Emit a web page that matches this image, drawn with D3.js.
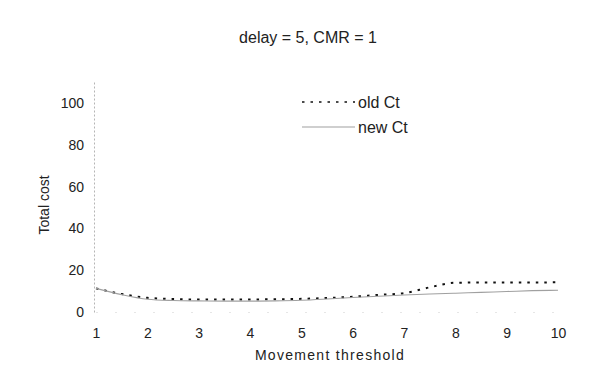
<!DOCTYPE html>
<html>
<head>
<meta charset="utf-8">
<script src="https://cdn.jsdelivr.net/npm/d3@7"></script>
<style>
  body { margin: 0; background: #fff; }
  text { font-family: "Liberation Sans", Arial, sans-serif; fill: #222; }
</style>
</head>
<body>
<div id="chart"></div>
<script>
// data
const thresholds = [1, 1.5, 2, 2.5, 3, 3.5, 4, 4.5, 5, 5.5, 6, 6.5, 7, 7.5, 8, 8.5, 9, 9.5, 10];
const oldCt = [11.3, 8.6, 6.8, 6.2, 6.0, 6.0, 6.0, 6.1, 6.3, 6.7, 7.3, 8.2, 9.0, 11.8, 14.0, 14.1, 14.1, 14.1, 14.2];
const newCt = [11.3, 8.3, 6.1, 5.5, 5.3, 5.2, 5.2, 5.3, 5.6, 6.2, 6.9, 7.5, 8.1, 8.6, 9.0, 9.4, 9.8, 10.2, 10.4];
const xTicks = [1, 2, 3, 4, 5, 6, 7, 8, 9, 10];
const yTicks = [0, 20, 40, 60, 80, 100];
const seriesNames = ['old Ct', 'new Ct'];

const width = 599, height = 377;
const margin = {top: 82, right: 41, bottom: 65, left: 96};

const svg = d3.select('#chart').append('svg')
    .attr('width', width)
    .attr('height', height);

const x = d3.scaleLinear().domain([1, 10]).range([margin.left, width - margin.right]);
const y = d3.scaleLinear().domain([0, 110]).range([height - margin.bottom, margin.top]);

// title
svg.append('text')
    .attr('x', 308)
    .attr('y', 43)
    .attr('text-anchor', 'middle')
    .style('font-size', '16px')
    .text('delay = 5, CMR = 1');

// y axis (faint dotted line, no tick marks)
const yAxis = svg.append('g')
    .attr('transform', 'translate(' + (margin.left - 2) + ',0)')
    .call(d3.axisLeft(y).tickValues(yTicks).tickSize(0).tickPadding(10));
yAxis.select('.domain').attr('stroke', '#b5b5b5').attr('stroke-dasharray', '2,2').attr('stroke-width', 1);
yAxis.selectAll('.tick text').style('font-size', '14px').attr('fill', '#222');

// x axis (very faint baseline)
const xAxis = svg.append('g')
    .attr('transform', 'translate(0,' + y(0) + ')')
    .call(d3.axisBottom(x).tickValues(xTicks).tickSize(0).tickPadding(16));
xAxis.select('.domain').attr('stroke', '#ccc').attr('stroke-dasharray', '1,18');
xAxis.selectAll('.tick text').style('font-size', '14px').attr('fill', '#222');

// axis titles
svg.append('text')
    .attr('x', 330)
    .attr('y', 360)
    .attr('text-anchor', 'middle')
    .style('font-size', '14px')
    .style('letter-spacing', '1.3px')
    .text('Movement threshold');

svg.append('text')
    .attr('transform', 'translate(49,' + 205 + ') rotate(-90)')
    .attr('text-anchor', 'middle')
    .style('font-size', '14px')
    .text('Total cost');

// lines
const line = d3.line()
    .curve(d3.curveMonotoneX)
    .x(d => x(d[0]))
    .y(d => y(d[1]));

const styles = [
    {stroke: '#111', width: 2, dash: '2.5,6'},
    {stroke: '#a0a0a0', width: 1.1, dash: null}
];

[oldCt, newCt].forEach(function(vals, i) {
    svg.append('path')
        .datum(thresholds.map((t, j) => [t, vals[j]]))
        .attr('fill', 'none')
        .attr('stroke', styles[i].stroke)
        .attr('stroke-width', styles[i].width)
        .attr('stroke-dasharray', styles[i].dash)
        .attr('d', line);
});

// legend
const legend = svg.append('g').attr('transform', 'translate(302,102)');
seriesNames.forEach(function(name, i) {
    const row = legend.append('g').attr('transform', 'translate(0,' + (i * 25) + ')');
    row.append('line')
        .attr('x1', 0).attr('x2', 53)
        .attr('stroke', styles[i].stroke)
        .attr('stroke-width', i === 0 ? 1.5 : styles[i].width)
        .attr('stroke-dasharray', styles[i].dash);
    row.append('text')
        .attr('x', 56)
        .attr('y', 6)
        .style('font-size', '16px')
        .text(name);
});
</script>
</body>
</html>
